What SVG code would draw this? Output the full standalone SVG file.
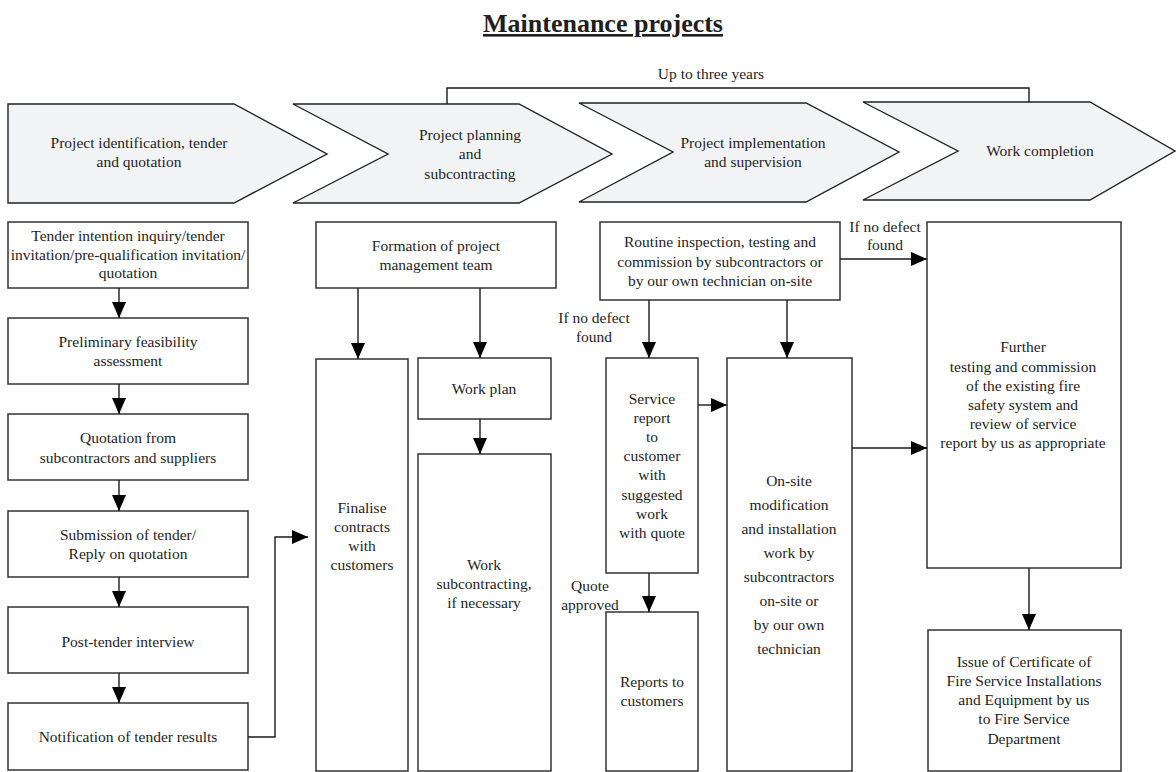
<svg xmlns="http://www.w3.org/2000/svg" width="1176" height="772" viewBox="0 0 1176 772">
<defs>
<style>
text{font-family:"Liberation Serif","Times New Roman",serif;font-size:15.5px;fill:#1e1e1e;text-anchor:middle}
.title{font-size:26px;font-weight:bold;text-decoration:underline}
.chev{fill:#f2f3f5;stroke:#222;stroke-width:1.4}
.box{fill:#fff;stroke:#333;stroke-width:1.5}
.conn{fill:none;stroke:#1a1a1a;stroke-width:1.4}
</style>
<marker id="ah" markerUnits="userSpaceOnUse" markerWidth="16" markerHeight="14" refX="16" refY="7" orient="auto">
<path d="M0,0 L16,7 L0,14 Z" fill="#000"/>
</marker>
</defs>
<rect width="1176" height="772" fill="#fff"/>
<text class="title" x="603" y="32">Maintenance projects</text>

<g id="phase1"><polygon class="chev" points="8,104 234,104 327,154 234,203 8,203"/>
<text x="139" y="148">Project identification, tender</text><text x="139" y="167">and quotation</text></g>
<g id="phase2"><polygon class="chev" points="293,104 519,104 612,154 519,203 293,203 388,154"/>
<text x="470" y="140">Project planning</text><text x="470" y="159">and</text><text x="470" y="179">subcontracting</text></g>
<g id="phase3"><polygon class="chev" points="579,103 806,103 899,152 806,202 579,202 673,152"/>
<text x="753" y="148">Project implementation</text><text x="753" y="167">and supervision</text></g>
<g id="phase4"><polygon class="chev" points="863,102 1090,102 1175,151 1090,200 863,200 958,151"/>
<text x="1040" y="156">Work completion</text></g>

<g id="b1"><rect class="box" x="8" y="222" width="240" height="66"/>
<text x="128" y="241">Tender intention inquiry/tender</text><text x="128" y="260">invitation/pre-qualification invitation/</text><text x="128" y="278">quotation</text></g>
<g id="b2"><rect class="box" x="8" y="318" width="240" height="66"/>
<text x="128" y="347">Preliminary feasibility</text><text x="128" y="366">assessment</text></g>
<g id="b3"><rect class="box" x="8" y="414" width="240" height="66"/>
<text x="128" y="443">Quotation from</text><text x="128" y="463">subcontractors and suppliers</text></g>
<g id="b4"><rect class="box" x="8" y="511" width="240" height="66"/>
<text x="128" y="540">Submission of tender/</text><text x="128" y="559">Reply on quotation</text></g>
<g id="b5"><rect class="box" x="8" y="607" width="240" height="66"/>
<text x="128" y="647">Post-tender interview</text></g>
<g id="b6"><rect class="box" x="8" y="703" width="240" height="67"/>
<text x="128" y="742">Notification of tender results</text></g>

<g id="formation"><rect class="box" x="316" y="222" width="240" height="66"/>
<text x="436" y="251">Formation of project</text><text x="436" y="270">management team</text></g>
<g id="finalise"><rect class="box" x="316" y="359" width="92" height="412"/>
<text x="362" y="513">Finalise</text><text x="362" y="532">contracts</text><text x="362" y="551">with</text><text x="362" y="570">customers</text></g>
<g id="workplan"><rect class="box" x="418" y="358" width="133" height="61"/>
<text x="484" y="394">Work plan</text></g>
<g id="worksub"><rect class="box" x="418" y="454" width="133" height="317"/>
<text x="484" y="570">Work</text><text x="484" y="589">subcontracting,</text><text x="484" y="608">if necessary</text></g>

<g id="routine"><rect class="box" x="600" y="222" width="240" height="78"/>
<text x="720" y="247">Routine inspection, testing and</text><text x="720" y="267">commission by subcontractors or</text><text x="720" y="286">by our own technician on-site</text></g>
<g id="service"><rect class="box" x="606" y="358" width="92" height="215"/>
<text x="652" y="404">Service</text><text x="652" y="423">report</text><text x="652" y="442">to</text><text x="652" y="461">customer</text><text x="652" y="480">with</text><text x="652" y="500">suggested</text><text x="652" y="519">work</text><text x="652" y="538">with quote</text></g>
<g id="reports"><rect class="box" x="606" y="612" width="92" height="159"/>
<text x="652" y="687">Reports to</text><text x="652" y="706">customers</text></g>
<g id="onsite"><rect class="box" x="727" y="358" width="125" height="413"/>
<text x="789" y="486">On-site</text><text x="789" y="510">modification</text><text x="789" y="534">and installation</text><text x="789" y="558">work by</text><text x="789" y="582">subcontractors</text><text x="789" y="606">on-site or</text><text x="789" y="630">by our own</text><text x="789" y="654">technician</text></g>
<g id="further"><rect class="box" x="927" y="222" width="194" height="346"/>
<text x="1023" y="352">Further</text><text x="1023" y="372">testing and commission</text><text x="1023" y="391">of the existing fire</text><text x="1023" y="410">safety system and</text><text x="1023" y="429">review of service</text><text x="1023" y="448">report by us as appropriate</text></g>
<g id="issue"><rect class="box" x="928" y="630" width="193" height="141"/>
<text x="1024" y="667">Issue of Certificate of</text><text x="1024" y="686">Fire Service Installations</text><text x="1024" y="705">and Equipment by us</text><text x="1024" y="724">to Fire Service</text><text x="1024" y="744">Department</text></g>

<g id="labels">
<text x="711" y="79">Up to three years</text>
<text x="594" y="323">If no defect</text><text x="594" y="342">found</text>
<text x="885" y="232">If no defect</text><text x="885" y="250">found</text>
<text x="590" y="591">Quote</text><text x="590" y="610">approved</text>
</g>

<g id="connectors">
<path class="conn" d="M447,104 V88 H1029 V102"/>
<path class="conn" marker-end="url(#ah)" d="M119,288 V318"/>
<path class="conn" marker-end="url(#ah)" d="M119,384 V414"/>
<path class="conn" marker-end="url(#ah)" d="M119,480 V511"/>
<path class="conn" marker-end="url(#ah)" d="M119,577 V607"/>
<path class="conn" marker-end="url(#ah)" d="M119,673 V703"/>
<path class="conn" marker-end="url(#ah)" d="M248,737 H275 V537 H308"/>
<path class="conn" marker-end="url(#ah)" d="M358,288 V359"/>
<path class="conn" marker-end="url(#ah)" d="M480,288 V358"/>
<path class="conn" marker-end="url(#ah)" d="M480,419 V454"/>
<path class="conn" marker-end="url(#ah)" d="M649,300 V358"/>
<path class="conn" marker-end="url(#ah)" d="M787,300 V358"/>
<path class="conn" marker-end="url(#ah)" d="M698,405 H727"/>
<path class="conn" marker-end="url(#ah)" d="M649,573 V612"/>
<path class="conn" marker-end="url(#ah)" d="M840,259 H927"/>
<path class="conn" marker-end="url(#ah)" d="M852,448 H927"/>
<path class="conn" marker-end="url(#ah)" d="M1029,568 V630"/>
</g>
</svg>
